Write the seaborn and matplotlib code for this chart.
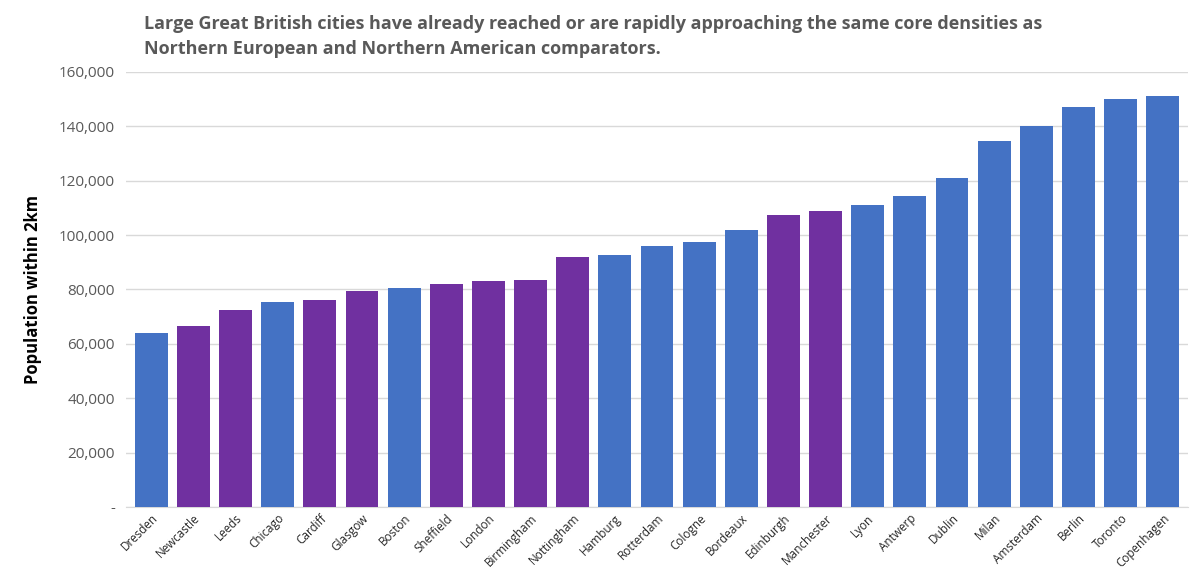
import matplotlib
matplotlib.use("Agg")
import matplotlib.pyplot as plt
import seaborn as sns
import pandas as pd
from matplotlib.ticker import FuncFormatter

cities = ["Dresden","Newcastle","Leeds","Chicago","Cardiff","Glasgow","Boston","Sheffield","London","Birmingham","Nottingham","Hamburg","Rotterdam","Cologne","Bordeaux","Edinburgh","Manchester","Lyon","Antwerp","Dublin","Milan","Amsterdam","Berlin","Toronto","Copenhagen"]
population = [64000,66500,72500,75500,76000,79500,80500,82000,83000,83500,92000,92500,96000,97500,102000,107500,109000,111000,114500,121000,134500,140000,147000,150000,151000]
gb_cities = ["Newcastle","Leeds","Cardiff","Glasgow","Sheffield","London","Birmingham","Nottingham","Edinburgh","Manchester"]

df = pd.DataFrame({"city": cities, "pop": population})
df["group"] = ["GB" if c in gb_cities else "Other" for c in cities]

plt.rcParams["font.family"] = "Open Sans"
fig = plt.figure(figsize=(12, 5.8), dpi=100)
ax = fig.add_axes([0.105, 0.126, 0.885, 0.75])
sns.barplot(data=df, x="city", y="pop", hue="group", dodge=False,
            palette={"GB": "#7030A0", "Other": "#4472C4"}, width=0.78,
            saturation=1, legend=False, ax=ax, zorder=3)
ax.set_ylim(0, 160000)
ax.set_yticks(range(0, 160001, 20000))
ax.yaxis.set_major_formatter(FuncFormatter(lambda v, p: "-" if v == 0 else f"{int(v):,}"))
ax.grid(axis="y", color="#d9d9d9", linewidth=1, zorder=0)
for s in ["top", "right", "left"]:
    ax.spines[s].set_visible(False)
ax.spines["bottom"].set_color("#d9d9d9")
ax.tick_params(axis="y", length=0, labelsize=11, labelcolor="#595959", pad=8)
ax.tick_params(axis="x", length=0, labelsize=8.5, labelcolor="#262626")
plt.setp(ax.get_xticklabels(), rotation=45, ha="right", rotation_mode="anchor")
ax.set_xlabel("")
ax.set_ylabel("Population within 2km", fontsize=12, fontweight="bold", labelpad=12)
ax.set_xlim(-0.6, len(cities) - 0.4)
fig.text(0.12, 0.9, "Large Great British cities have already reached or are rapidly approaching the same core densities as\nNorthern European and Northern American comparators.",
         fontsize=13, fontweight="bold", color="#595959", ha="left", va="bottom", linespacing=1.5)
fig.savefig("out.png")
